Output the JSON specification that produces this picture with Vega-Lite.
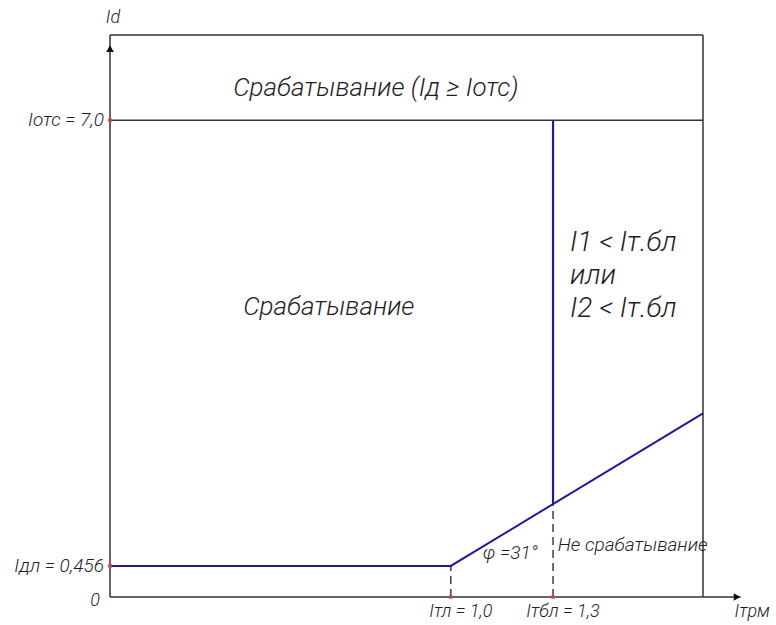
{
  "$schema": "https://vega.github.io/schema/vega-lite/v6.json",
  "autosize": {"type": "none"},
  "padding": {"left": 110, "top": 35, "right": 73, "bottom": 28},
  "width": 593,
  "height": 562,
  "background": "white",
  "config": {
    "view": {"stroke": null},
    "text": {"font": "Roboto, DejaVu Sans", "fontStyle": "italic", "fontWeight": 300, "color": "#1e1e1e"}
  },
  "datasets": {
    "frame": [
      {"x": 0, "y": 0, "x2": 0, "y2": 8.25},
      {"x": 0, "y": 8.25, "x2": 1.74, "y2": 8.25},
      {"x": 1.74, "y": 0, "x2": 1.74, "y2": 8.25},
      {"x": 0, "y": 7.0, "x2": 1.74, "y2": 7.0},
      {"x": 0, "y": 0, "x2": 1.85, "y2": 0}
    ],
    "characteristic": [
      {"x": 0, "y": 0.456},
      {"x": 1.0, "y": 0.456},
      {"x": 1.74, "y": 2.696}
    ],
    "blocking": [
      {"x": 1.3, "y": 1.366, "x2": 1.3, "y2": 7.0}
    ],
    "guides": [
      {"x": 1.0, "y": 0, "x2": 1.0, "y2": 0.456},
      {"x": 1.3, "y": 0, "x2": 1.3, "y2": 1.366}
    ],
    "points": [
      {"x": 0, "y": 7.0},
      {"x": 0, "y": 0.456},
      {"x": 1.0, "y": 0},
      {"x": 1.3, "y": 0}
    ],
    "arrows": [
      {"x": 0, "y": 8.05, "shape": "triangle-up"},
      {"x": 1.84, "y": 0, "shape": "triangle-right"}
    ],
    "ylabels": [
      {"x": 0, "y": 7.0, "label": "Iотс = 7,0"},
      {"x": 0, "y": 0.456, "label": "Iдл = 0,456"}
    ],
    "xlabels": [
      {"x": 1.0, "y": 0, "label": "Iтл = 1,0"},
      {"x": 1.3, "y": 0, "label": "Iтбл = 1,3"},
      {"x": 1.855, "y": 0, "label": "Iтрм"}
    ],
    "zones": [
      {"x": 0.78, "y": 7.47, "label": "Срабатывание (Iд ≥ Iотс)"},
      {"x": 0.642, "y": 4.26, "label": "Срабатывание"}
    ],
    "blockText": [
      {"x": 1.35, "y": 5.2, "label": "I1 <  Iт.бл"},
      {"x": 1.35, "y": 4.71, "label": "или"},
      {"x": 1.35, "y": 4.23, "label": "I2 <  Iт.бл"}
    ],
    "noTrip": [
      {"x": 1.314, "y": 0.76, "label": "Не срабатывание"}
    ],
    "angle": [
      {"x": 1.094, "y": 0.646, "label": "φ =31°"}
    ]
  },
  "layer": [
    {
      "data": {"name": "frame"},
      "mark": {"type": "rule", "color": "#333", "strokeWidth": 1.5},
      "encoding": {
        "x": {"field": "x", "type": "quantitative", "scale": {"domain": [0, 1.74], "nice": false, "zero": false}, "axis": null},
        "y": {"field": "y", "type": "quantitative", "scale": {"domain": [0, 8.25], "nice": false, "zero": false}, "axis": null},
        "x2": {"field": "x2"},
        "y2": {"field": "y2"}
      }
    },
    {
      "data": {"name": "guides"},
      "mark": {"type": "rule", "color": "#222", "strokeWidth": 1.3, "strokeDash": [8, 5]},
      "encoding": {
        "x": {"field": "x", "type": "quantitative"},
        "y": {"field": "y", "type": "quantitative"},
        "x2": {"field": "x2"},
        "y2": {"field": "y2"}
      }
    },
    {
      "data": {"name": "characteristic"},
      "mark": {"type": "line", "color": "#1c1c96", "strokeWidth": 2},
      "encoding": {
        "x": {"field": "x", "type": "quantitative"},
        "y": {"field": "y", "type": "quantitative"}
      }
    },
    {
      "data": {"name": "blocking"},
      "mark": {"type": "rule", "color": "#1c1c96", "strokeWidth": 2.2},
      "encoding": {
        "x": {"field": "x", "type": "quantitative"},
        "y": {"field": "y", "type": "quantitative"},
        "x2": {"field": "x2"},
        "y2": {"field": "y2"}
      }
    },
    {
      "data": {"name": "points"},
      "mark": {"type": "point", "filled": true, "color": "#c85050", "size": 22, "opacity": 0.8},
      "encoding": {
        "x": {"field": "x", "type": "quantitative"},
        "y": {"field": "y", "type": "quantitative"}
      }
    },
    {
      "data": {"name": "arrows"},
      "mark": {"type": "point", "filled": true, "color": "#111", "size": 60, "opacity": 1},
      "encoding": {
        "x": {"field": "x", "type": "quantitative"},
        "y": {"field": "y", "type": "quantitative"},
        "shape": {"field": "shape", "type": "nominal", "scale": null}
      }
    },
    {
      "data": {"name": "ylabels"},
      "mark": {"type": "text", "align": "right", "baseline": "middle", "dx": -6, "fontSize": 19},
      "encoding": {
        "x": {"field": "x", "type": "quantitative"},
        "y": {"field": "y", "type": "quantitative"},
        "text": {"field": "label"}
      }
    },
    {
      "data": {"values": [{"x": 0, "y": 0, "label": "0"}]},
      "mark": {"type": "text", "align": "right", "baseline": "middle", "dx": -10, "dy": 4, "fontSize": 18},
      "encoding": {
        "x": {"field": "x", "type": "quantitative"},
        "y": {"field": "y", "type": "quantitative"},
        "text": {"field": "label"}
      }
    },
    {
      "data": {"values": [{"x": 0, "y": 8.25, "label": "Id"}]},
      "mark": {"type": "text", "align": "center", "baseline": "middle", "dx": 3, "dy": -17, "fontSize": 18},
      "encoding": {
        "x": {"field": "x", "type": "quantitative"},
        "y": {"field": "y", "type": "quantitative"},
        "text": {"field": "label"}
      }
    },
    {
      "data": {"name": "xlabels"},
      "mark": {"type": "text", "align": "center", "baseline": "middle", "dx": 10, "dy": 15, "fontSize": 18},
      "encoding": {
        "x": {"field": "x", "type": "quantitative"},
        "y": {"field": "y", "type": "quantitative"},
        "text": {"field": "label"}
      }
    },
    {
      "data": {"name": "zones"},
      "mark": {"type": "text", "align": "center", "baseline": "middle", "fontSize": 26},
      "encoding": {
        "x": {"field": "x", "type": "quantitative"},
        "y": {"field": "y", "type": "quantitative"},
        "text": {"field": "label"}
      }
    },
    {
      "data": {"name": "blockText"},
      "mark": {"type": "text", "align": "left", "baseline": "middle", "fontSize": 28},
      "encoding": {
        "x": {"field": "x", "type": "quantitative"},
        "y": {"field": "y", "type": "quantitative"},
        "text": {"field": "label"}
      }
    },
    {
      "data": {"name": "noTrip"},
      "mark": {"type": "text", "align": "left", "baseline": "middle", "fontSize": 19},
      "encoding": {
        "x": {"field": "x", "type": "quantitative"},
        "y": {"field": "y", "type": "quantitative"},
        "text": {"field": "label"}
      }
    },
    {
      "data": {"name": "angle"},
      "mark": {"type": "text", "align": "left", "baseline": "middle", "fontSize": 19},
      "encoding": {
        "x": {"field": "x", "type": "quantitative"},
        "y": {"field": "y", "type": "quantitative"},
        "text": {"field": "label"}
      }
    }
  ]
}
